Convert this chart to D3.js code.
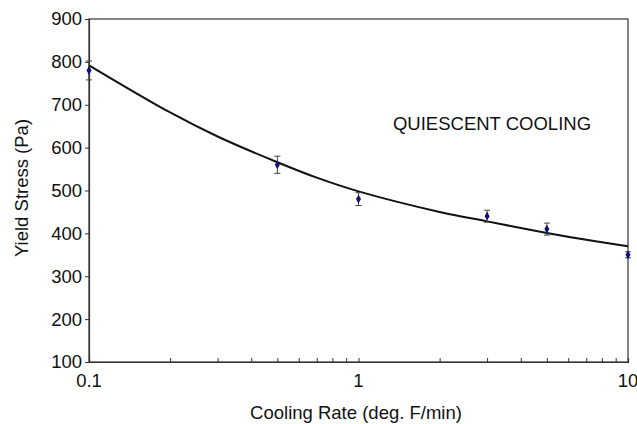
<!DOCTYPE html>
<html>
<head>
<meta charset="utf-8">
<script src="https://cdn.jsdelivr.net/npm/d3@7"></script>
<style>
  html, body { margin: 0; padding: 0; background: #fff; }
  svg { display: block; font-family: "Liberation Sans", Arial, sans-serif; }
</style>
</head>
<body>
<svg id="chart" width="637" height="424"></svg>
<script>
// Measured yield stress at each cooling rate
const rates = [0.1, 0.5, 1, 3, 5, 10];
const stress = [780, 560, 480, 440, 410, 350];
const stressErr = [22, 20, 15, 14, 14, 7];

// Fitted trend line
const fitRates = [0.1, 0.2, 0.3, 0.5, 0.7, 1, 2, 3, 5, 7, 10];
const fitStress = [792, 682, 626, 566, 530, 498, 450, 428, 401, 385, 370];

const yTicks = [100, 200, 300, 400, 500, 600, 700, 800, 900];
const xTickLabels = [0.1, 1, 10];

const svg = d3.select("#chart");
const plotL = 89, plotR = 628, plotT = 19, plotB = 362;
const fontSize = 18.5;

const x = d3.scaleLog().domain([0.1, 10]).range([plotL, plotR]);
const y = d3.scaleLinear().domain([100, 900]).range([plotB, plotT]);

const axisColor = "#333";

// plot frame
svg.append("rect")
  .attr("x", plotL).attr("y", plotT)
  .attr("width", plotR - plotL).attr("height", plotB - plotT)
  .attr("fill", "none").attr("stroke", axisColor).attr("stroke-width", 1.2);

// y axis
const yAxis = svg.append("g")
  .attr("transform", `translate(${plotL},0)`)
  .call(d3.axisLeft(y).tickValues(yTicks).tickSize(4).tickPadding(3));
yAxis.select(".domain").attr("stroke", axisColor).attr("stroke-width", 1.2);
yAxis.selectAll(".tick line").attr("stroke", axisColor);
yAxis.selectAll(".tick text")
  .attr("font-size", fontSize).attr("fill", "#111")
  .attr("font-family", "Liberation Sans, Arial, sans-serif");

// x axis: minor log ticks point inward
const minorTicks = [];
for (let d = 0.1; d < 10; d *= 10) {
  for (let k = 1; k <= 9; k++) minorTicks.push(+(d * k).toPrecision(3));
}
minorTicks.push(10);
const xAxis = svg.append("g")
  .attr("transform", `translate(0,${plotB})`)
  .call(d3.axisBottom(x).tickValues(minorTicks).tickSize(-4).tickFormat(() => ""));
xAxis.select(".domain").attr("stroke", axisColor).attr("stroke-width", 1.2);
xAxis.selectAll(".tick line").attr("stroke", axisColor);

svg.append("g").selectAll("text")
  .data(xTickLabels)
  .join("text")
  .attr("x", d => x(d))
  .attr("y", plotB + 25)
  .attr("text-anchor", "middle")
  .attr("font-size", fontSize)
  .attr("fill", "#111")
  .text(d => d);

// fitted curve
const fitData = fitRates.map((r, i) => [r, fitStress[i]]);
svg.append("path")
  .datum(fitData)
  .attr("fill", "none")
  .attr("stroke", "#111")
  .attr("stroke-width", 2)
  .attr("d", d3.line().x(d => x(d[0])).y(d => y(d[1])).curve(d3.curveCatmullRom));

// error bars
const pts = rates.map((r, i) => ({ r, v: stress[i], e: stressErr[i] }));
const eb = svg.append("g").attr("stroke", "#444").attr("stroke-width", 1);
eb.selectAll("line.v").data(pts).join("line")
  .attr("class", "v")
  .attr("x1", d => x(d.r)).attr("x2", d => x(d.r))
  .attr("y1", d => y(d.v + d.e)).attr("y2", d => y(d.v - d.e));
eb.selectAll("line.t").data(pts).join("line")
  .attr("class", "t")
  .attr("x1", d => x(d.r) - 3).attr("x2", d => x(d.r) + 3)
  .attr("y1", d => y(d.v + d.e)).attr("y2", d => y(d.v + d.e));
eb.selectAll("line.b").data(pts).join("line")
  .attr("class", "b")
  .attr("x1", d => x(d.r) - 3).attr("x2", d => x(d.r) + 3)
  .attr("y1", d => y(d.v - d.e)).attr("y2", d => y(d.v - d.e));

// diamond markers
svg.append("g").selectAll("path").data(pts).join("path")
  .attr("transform", d => `translate(${x(d.r)},${y(d.v)})`)
  .attr("d", d3.symbol().type(d3.symbolDiamond).size(22))
  .attr("fill", "#10107a");

// annotation
svg.append("text")
  .attr("x", 492).attr("y", 130)
  .attr("text-anchor", "middle")
  .attr("font-size", fontSize)
  .attr("fill", "#111")
  .text("QUIESCENT COOLING");

// axis titles
svg.append("text")
  .attr("x", 356).attr("y", 419)
  .attr("text-anchor", "middle")
  .attr("font-size", fontSize)
  .attr("fill", "#111")
  .text("Cooling Rate (deg. F/min)");

svg.append("text")
  .attr("transform", `translate(28,188) rotate(-90)`)
  .attr("text-anchor", "middle")
  .attr("font-size", fontSize)
  .attr("fill", "#111")
  .text("Yield Stress (Pa)");
</script>
</body>
</html>
